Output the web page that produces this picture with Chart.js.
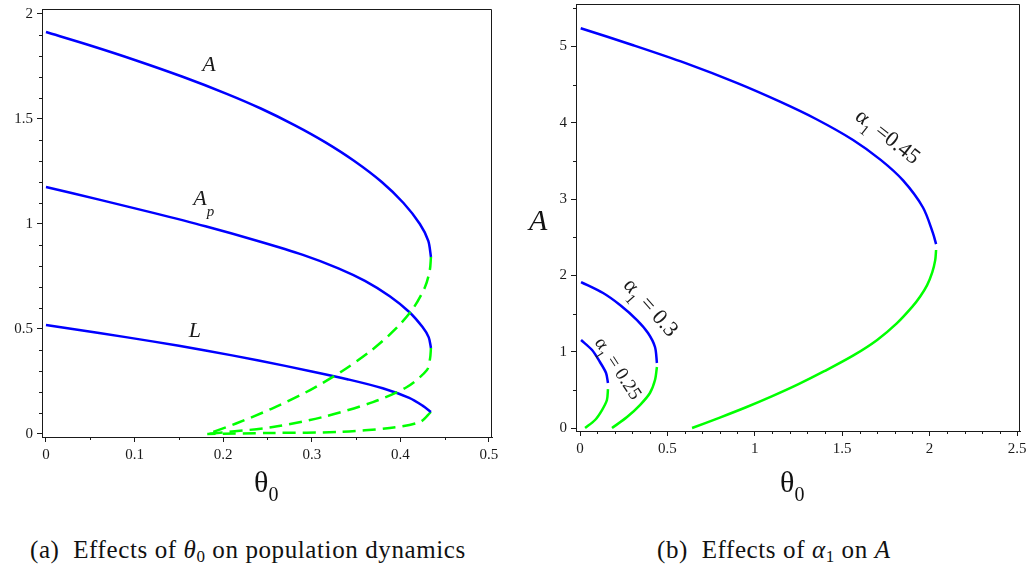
<!DOCTYPE html>
<html>
<head>
<meta charset="utf-8">
<script src="https://cdn.jsdelivr.net/npm/chart.js@4"></script>
<style>
  body { margin: 0; background: #fff; width: 1028px; height: 567px; overflow: hidden; position: relative; font-family: 'Liberation Serif', serif; color: #111; }
  canvas { position: absolute; top: 0; }
  #left { left: 0; }
  #right { left: 514px; }
  .axt { position: absolute; font-size: 30px; line-height: 1; white-space: nowrap; }
  .axt sub { font-size: 20px; vertical-align: -9px; }
  .ylab { position: absolute; font-size: 30px; font-style: italic; line-height: 1; }
  .cap { position: absolute; top: 537px; font-size: 25px; letter-spacing: 0.6px; line-height: 1; white-space: nowrap; }
  .cap sub { font-size: 17px; vertical-align: -4px; }
</style>
</head>
<body>
<canvas id="left" width="514" height="470"></canvas>
<canvas id="right" width="514" height="470"></canvas>
<div class="axt" style="left:254px; top:467px">θ<sub>0</sub></div>
<div class="axt" style="left:780px; top:467px">θ<sub>0</sub></div>
<div class="ylab" style="left:529px; top:205px">A</div>
<div class="cap" style="left:30px">(a)&nbsp; Effects of <i>θ</i><sub>0</sub> on population dynamics</div>
<div class="cap" style="left:657px">(b)&nbsp; Effects of <i>α</i><sub>1</sub> on <i>A</i></div>
<script>
// ---- panel (a): A, A_p and L against theta_0 ----
// stable branches (solid blue) and unstable branches (dashed green), [theta0, value]
const stableA = [[0, 1.914], [0.050, 1.85], [0.101, 1.78], [0.155, 1.70], [0.204, 1.62], [0.2425, 1.55],
                 [0.281, 1.47], [0.315, 1.39], [0.348, 1.30], [0.379, 1.20], [0.4035, 1.10],
                 [0.422, 1.00], [0.4315, 0.92], [0.4345, 0.843]];
const unstableA = [[0.4345, 0.843], [0.4332, 0.78], [0.4278, 0.70], [0.4147, 0.60], [0.3945, 0.50],
                   [0.3678, 0.40], [0.3345, 0.30], [0.294, 0.20], [0.2545, 0.12], [0.2145, 0.05], [0.182, 0]];
const stableAp = [[0, 1.176], [0.06, 1.116], [0.12, 1.054], [0.18, 0.989], [0.24, 0.918], [0.29, 0.853],
                  [0.33, 0.789], [0.36, 0.729], [0.388, 0.656], [0.41, 0.581], [0.425, 0.509],
                  [0.432, 0.460], [0.4345, 0.410]];
const unstableAp = [[0.4345, 0.410], [0.4335, 0.36], [0.430, 0.305], [0.4074, 0.224], [0.369, 0.152],
                    [0.3126, 0.081], [0.256, 0.033], [0.182, 0]];
const stableL = [[0, 0.519], [0.06, 0.481], [0.12, 0.441], [0.18, 0.398], [0.24, 0.350], [0.30, 0.298],
                 [0.34, 0.261], [0.38, 0.218], [0.41, 0.172], [0.425, 0.135], [0.4345, 0.105]];
const unstableL = [[0.4345, 0.105], [0.422, 0.057], [0.388, 0.029], [0.332, 0.010], [0.256, 0.005], [0.182, 0]];

const xTicksL = [0, 0.1, 0.2, 0.3, 0.4, 0.5];
const xTickLabelsL = ['0', '0.1', '0.2', '0.3', '0.4', '0.5'];
const xMinorL = [0.05, 0.15, 0.25, 0.35, 0.45];
const yTicksL = [0, 0.5, 1, 1.5, 2];
const yTickLabelsL = ['0', '0.5', '1', '1.5', '2'];
const yMinorL = [0.1, 0.2, 0.3, 0.4, 0.6, 0.7, 0.8, 0.9, 1.1, 1.2, 1.3, 1.4, 1.6, 1.7, 1.8, 1.9];

// ---- panel (b): A against theta_0 for three alpha_1 values ----
const stable045 = [[0.004, 5.24], [0.3, 5.02], [0.6, 4.785], [0.9, 4.52], [1.144, 4.277], [1.35, 4.05],
                   [1.562, 3.775], [1.72, 3.514], [1.848, 3.245], [1.962, 2.89], [2.019, 2.555], [2.037, 2.41]];
const unstable045 = [[2.037, 2.333], [2.032, 2.20], [2.015, 2.04], [1.985, 1.87], [1.945, 1.721],
                     [1.90, 1.588], [1.812, 1.372], [1.70, 1.155], [1.564, 0.952], [1.40, 0.748],
                     [1.25, 0.575], [1.10, 0.418], [0.95, 0.272], [0.80, 0.137], [0.641, 0]];
const stable030 = [[0.006, 1.913], [0.132, 1.769], [0.229, 1.612], [0.326, 1.415], [0.389, 1.245],
                   [0.429, 1.062], [0.440, 0.852]];
const unstable030 = [[0.440, 0.80], [0.429, 0.629], [0.40, 0.459], [0.343, 0.301], [0.269, 0.144], [0.183, 0]];
const stable025 = [[0.006, 1.153], [0.069, 1.022], [0.114, 0.865], [0.149, 0.721], [0.160, 0.590]];
const unstable025 = [[0.160, 0.511], [0.154, 0.367], [0.126, 0.236], [0.086, 0.105], [0.029, 0]];

const xTicksR = [0, 0.5, 1, 1.5, 2, 2.5];
const xTickLabelsR = ['0', '0.5', '1', '1.5', '2', '2.5'];
const xMinorR = [0.1, 0.2, 0.3, 0.4, 0.6, 0.7, 0.8, 0.9, 1.1, 1.2, 1.3, 1.4,
                 1.6, 1.7, 1.8, 1.9, 2.1, 2.2, 2.3, 2.4];
const yTicksR = [0, 1, 2, 3, 4, 5];
const yTickLabelsR = ['0', '1', '2', '3', '4', '5'];
const yMinorR = [0.5, 1.5, 2.5, 3.5, 4.5, 5.5];

const BLUE = '#0000ff';
const GREEN = '#00ff00';
const INK = '#1a1a1a';
const SERIF = '"Liberation Serif", "Times New Roman", serif';

function toPoints(pairs) {
  return pairs.map(p => ({ x: p[0], y: p[1] }));
}

function branch(pairs, color, dashed) {
  return {
    data: toPoints(pairs),
    borderColor: color,
    borderWidth: 2.5,
    borderDash: dashed ? [13, 7] : [],
    showLine: true,
    pointRadius: 0,
    fill: false,
    tension: 0.3
  };
}

// frame around the plot plus the short minor ticks
const framePlugin = {
  id: 'frame',
  afterDraw(chart, args, opts) {
    const { ctx, chartArea: a, scales } = chart;
    ctx.save();
    ctx.strokeStyle = INK;
    ctx.lineWidth = 1;
    ctx.beginPath();
    ctx.moveTo(a.left, a.top + 0.5);
    ctx.lineTo(a.right - 0.5, a.top + 0.5);
    ctx.lineTo(a.right - 0.5, a.bottom);
    ctx.stroke();
    ctx.beginPath();
    (opts.xMinor || []).forEach(v => {
      const px = Math.round(scales.x.getPixelForValue(v)) + 0.5;
      ctx.moveTo(px, a.bottom);
      ctx.lineTo(px, a.bottom + 3);
    });
    (opts.yMinor || []).forEach(v => {
      const py = Math.round(scales.y.getPixelForValue(v)) + 0.5;
      ctx.moveTo(a.left, py);
      ctx.lineTo(a.left - 3, py);
    });
    ctx.stroke();
    ctx.restore();
  }
};

// curve names placed at data coordinates, with optional rotation and subscripts
const labelPlugin = {
  id: 'curveLabels',
  afterDatasetsDraw(chart, args, opts) {
    const { ctx, scales: { x, y } } = chart;
    (opts.items || []).forEach(item => {
      const size = item.size;
      const fontFor = p => `${p.it ? 'italic ' : ''}${p.sub ? Math.round(size * 0.7) : size}px ${SERIF}`;
      ctx.save();
      ctx.translate(x.getPixelForValue(item.x), y.getPixelForValue(item.y));
      ctx.rotate((item.angle || 0) * Math.PI / 180);
      let total = 0;
      const parts = item.parts.map(p => {
        ctx.font = fontFor(p);
        const w = ctx.measureText(p.t).width;
        total += w;
        return Object.assign({ w }, p);
      });
      let cx = -total / 2;
      ctx.fillStyle = INK;
      ctx.textBaseline = 'alphabetic';
      parts.forEach(p => {
        ctx.font = fontFor(p);
        ctx.fillText(p.t, cx, size * 0.35 + (p.sub ? size * (p.drop || 0.35) : 0));
        cx += p.w;
      });
      ctx.restore();
    });
  }
};

function axis(min, max, ticks, labels, fitSize, isX) {
  return {
    type: 'linear',
    min: min,
    max: max,
    afterBuildTicks: s => { s.ticks = ticks.map(v => ({ value: v })); },
    afterFit: s => {
      if (isX) s.height = fitSize; else s.width = fitSize;
      // edge tick labels must not push the plot area inwards
      s.paddingTop = s.paddingBottom = s.paddingLeft = s.paddingRight = 0;
    },
    ticks: {
      autoSkip: false,
      maxRotation: 0,
      padding: 4,
      color: INK,
      font: { family: SERIF, size: 15 },
      callback: (v, i) => labels[i]
    },
    grid: { drawOnChartArea: false, drawTicks: true, tickLength: 5, tickColor: INK, color: INK },
    border: { color: INK, width: 1 }
  };
}

function makeChart(id, datasets, scales, padding, frame, labels) {
  return new Chart(document.getElementById(id), {
    type: 'scatter',
    data: { datasets: datasets },
    options: {
      responsive: false,
      animation: false,
      devicePixelRatio: 1,
      layout: { padding: padding },
      scales: scales,
      plugins: {
        legend: { display: false },
        tooltip: { enabled: false },
        frame: frame,
        curveLabels: { items: labels }
      }
    },
    plugins: [framePlugin, labelPlugin]
  });
}

makeChart('left',
  [
    branch(stableA, BLUE, false), branch(unstableA, GREEN, true),
    branch(stableAp, BLUE, false), branch(unstableAp, GREEN, true),
    branch(stableL, BLUE, false), branch(unstableL, GREEN, true)
  ],
  {
    x: axis(-0.0045, 0.5034, xTicksL, xTickLabelsL, 33, true),
    y: axis(-0.0143, 2.0238, yTicksL, yTickLabelsL, 42, false)
  },
  { top: 9, right: 22, left: 0, bottom: 0 },
  { xMinor: xMinorL, yMinor: yMinorL },
  [
    { x: 0.184, y: 1.763, size: 22, parts: [{ t: 'A', it: true }] },
    { x: 0.178, y: 1.128, size: 22, parts: [{ t: 'A', it: true }, { t: 'p', it: true, sub: true, drop: 0.5 }] },
    { x: 0.168, y: 0.500, size: 22, parts: [{ t: 'L', it: true }] }
  ]
);

makeChart('right',
  [
    branch(stable045, BLUE, false), branch(unstable045, GREEN, false),
    branch(stable030, BLUE, false), branch(unstable030, GREEN, false),
    branch(stable025, BLUE, false), branch(unstable025, GREEN, false)
  ],
  {
    x: axis(-0.0229, 2.517, xTicksR, xTickLabelsR, 39, true),
    y: axis(-0.039, 5.557, yTicksR, yTickLabelsR, 62, false)
  },
  { top: 4, right: 8, left: 0, bottom: 0 },
  { xMinor: xMinorR, yMinor: yMinorR },
  [
    { x: 1.765, y: 3.83, angle: 38, size: 22, parts: [{ t: 'α' }, { t: '1', sub: true }, { t: ' =0.45' }] },
    { x: 0.41, y: 1.59, angle: 48, size: 22, parts: [{ t: 'α' }, { t: '1', sub: true }, { t: ' = 0.3' }] },
    { x: 0.223, y: 0.786, angle: 57, size: 19, parts: [{ t: 'α' }, { t: '1', sub: true }, { t: ' = 0.25' }] }
  ]
);
</script>
</body>
</html>
